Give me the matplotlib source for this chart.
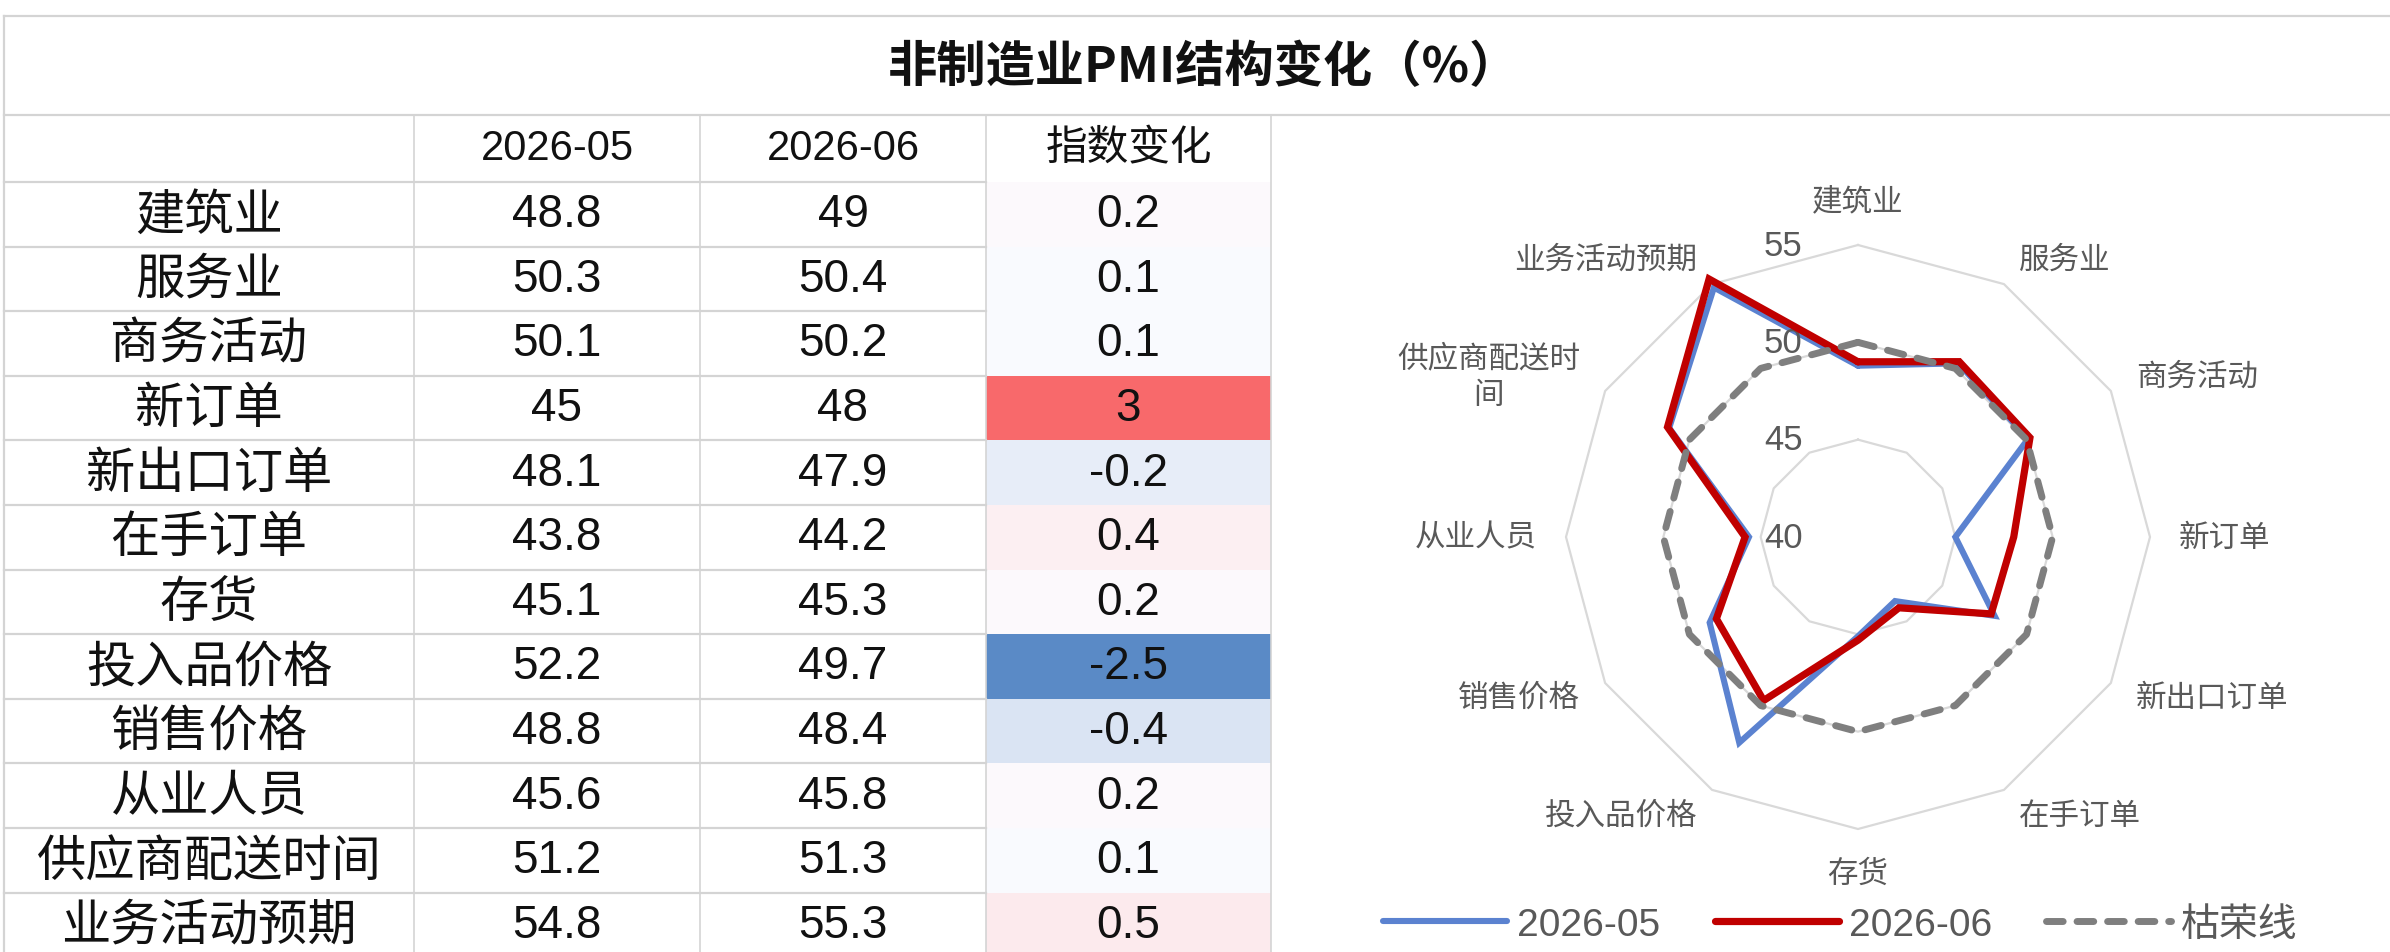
import numpy as np
import matplotlib
matplotlib.use('Agg')
import matplotlib.pyplot as plt
from matplotlib import font_manager as fm
from matplotlib.font_manager import FontProperties
from matplotlib.colors import LinearSegmentedColormap, TwoSlopeNorm
from matplotlib.patches import Rectangle

# ---------------- data ----------------
title = '非制造业PMI结构变化（%）'
col_headers = ['2026-05', '2026-06', '指数变化']
categories = ['建筑业', '服务业', '商务活动', '新订单', '新出口订单', '在手订单',
              '存货', '投入品价格', '销售价格', '从业人员', '供应商配送时间', '业务活动预期']
radar_labels = ['建筑业', '服务业', '商务活动', '新订单', '新出口订单', '在手订单',
                '存货', '投入品价格', '销售价格', '从业人员', '供应商配送时\n间', '业务活动预期']
may_values = [48.8, 50.3, 50.1, 45, 48.1, 43.8, 45.1, 52.2, 48.8, 45.6, 51.2, 54.8]
jun_values = [49, 50.4, 50.2, 48, 47.9, 44.2, 45.3, 49.7, 48.4, 45.8, 51.3, 55.3]
change_values = [0.2, 0.1, 0.1, 3, -0.2, 0.4, 0.2, -2.5, -0.4, 0.2, 0.1, 0.5]
kurong_values = [50] * 12
series_names = ['2026-05', '2026-06', '枯荣线']
r_ticks = [55, 50, 45, 40]
r_grid = [45, 50, 55]

# ---------------- fonts ----------------
avail = {f.name for f in fm.fontManager.ttflist}
NARROW = 'Liberation Sans Narrow' if 'Liberation Sans Narrow' in avail else 'Liberation Sans'
CJK = 'Noto Sans CJK SC'
plt.rcParams['font.family'] = [CJK, 'DejaVu Sans']

W, H = 2390, 953
fig = plt.figure(figsize=(W / 100, H / 100), dpi=100)
fig.patch.set_facecolor('white')

bg = fig.add_axes([0, 0, 1, 1])
bg.set_xlim(0, W)
bg.set_ylim(H, 0)
bg.axis('off')

# ---------------- table ----------------
grid_c = '#d4d4d4'
x_edges = [4, 414, 700, 986, 1271]
top, title_bottom, header_bottom, row_h = 17, 116, 183, 64.6
x_centers = [(x_edges[i] + x_edges[i + 1]) / 2 for i in range(4)]

# title
bg.text(1203, 68, title, ha='center', va='center', fontsize=35.5, fontweight='bold',
        family=[CJK, 'DejaVu Sans'], color='#111111')

# border lines
bg.plot([x_edges[0], W], [top, top], color=grid_c, lw=1.6, zorder=4)
bg.plot([x_edges[0], W], [title_bottom, title_bottom], color=grid_c, lw=1.6, zorder=4)
bg.plot([x_edges[0], x_edges[0]], [top, H], color=grid_c, lw=1.6, zorder=4)
for x in x_edges[1:]:
    bg.plot([x, x], [title_bottom, H], color=grid_c, lw=1.2, zorder=4)
bg.plot([x_edges[0], x_edges[3]], [header_bottom, header_bottom], color=grid_c, lw=1.6, zorder=4)
for k in range(1, len(categories) + 1):
    y = header_bottom + k * row_h
    bg.plot([x_edges[0], x_edges[3]], [y, y], color=grid_c, lw=1.6, zorder=4)

# headers
header_y = (title_bottom + header_bottom) / 2
for j, h in enumerate(col_headers):
    bg.text(x_centers[j + 1], header_y, h, ha='center', va='center', fontsize=30,
            family=[NARROW, CJK], color='#111111')

# colour scale for change column (Excel red-white-blue, 50th percentile midpoint)
cmap = LinearSegmentedColormap.from_list('rwb', ['#5A8AC6', '#FCFCFF', '#F8696B'])
norm = TwoSlopeNorm(vmin=min(change_values), vcenter=float(np.median(change_values)),
                    vmax=max(change_values))

def fmt(v):
    return f'{v:g}'

for i, cat in enumerate(categories):
    y0 = header_bottom + i * row_h
    yc = y0 + row_h / 2
    bg.add_patch(Rectangle((x_edges[3], y0), x_edges[4] - x_edges[3], row_h + 2,
                           facecolor=cmap(norm(change_values[i])), edgecolor='none', zorder=2))
    bg.text(x_centers[0], yc, cat, ha='center', va='center', fontsize=35.5,
            family=[CJK], color='#111111', zorder=5)
    bg.text(x_centers[1], yc, fmt(may_values[i]), ha='center', va='center', fontsize=33,
            family=[NARROW, CJK], color='#111111', zorder=5)
    bg.text(x_centers[2], yc, fmt(jun_values[i]), ha='center', va='center', fontsize=33,
            family=[NARROW, CJK], color='#111111', zorder=5)
    bg.text(x_centers[3], yc, fmt(change_values[i]), ha='center', va='center', fontsize=33,
            family=[NARROW, CJK], color='#111111', zorder=5)

# ---------------- radar ----------------
cx, cy, rad = 1858, 538, 292
ax = fig.add_axes([(cx - rad) / W, (H - cy - rad) / H, 2 * rad / W, 2 * rad / H],
                  projection='polar')
ax.set_theta_zero_location('N')
ax.set_theta_direction(-1)
ax.set_ylim(40, 55)
ax.axis('off')

n = len(categories)
theta = np.arange(n) * 2 * np.pi / n
theta_c = np.append(theta, theta[0])

def close(v):
    return np.append(np.asarray(v, dtype=float), v[0])

for r in r_grid:
    ax.plot(theta_c, [r] * (n + 1), color='#d9d9d9', lw=1.6, zorder=1, clip_on=False)

blue, red, gray = '#5B82D0', '#C00000', '#7F7F7F'
l_may, = ax.plot(theta_c, close(may_values), color=blue, lw=4.4, zorder=3, clip_on=False,
                 solid_joinstyle='miter', solid_capstyle='round')
l_jun, = ax.plot(theta_c, close(jun_values), color=red, lw=5.2, zorder=4, clip_on=False,
                 solid_joinstyle='miter', solid_capstyle='round')
l_kr, = ax.plot(theta_c, close(kurong_values), color=gray, lw=5.0, zorder=5, clip_on=False,
                dashes=(2.4, 2.0), dash_capstyle='round')

for i, lab in enumerate(radar_labels):
    s, c = np.sin(theta[i]), np.cos(theta[i])
    ha = 'center' if abs(s) < 0.1 else ('left' if s > 0 else 'right')
    va = 'bottom' if c > 0.9 else ('top' if c < -0.9 else 'center')
    ax.text(theta[i], 56.5, lab, ha=ha, va=va, fontsize=22, color='#595959',
            family=[CJK], multialignment='center', clip_on=False, linespacing=1.25)

for v in r_ticks:
    ax.annotate(f'{v}', xy=(0, v), xytext=(-40, 0), textcoords='offset points',
                ha='right', va='center', fontsize=25, color='#595959',
                family=['Liberation Sans'], annotation_clip=False)

fig.legend(handles=[l_may, l_jun, l_kr], labels=series_names, loc='center',
           bbox_to_anchor=(1840 / W, 1 - 926 / H), ncol=3, frameon=False,
           prop=FontProperties(family=[NARROW, CJK], size=28),
           handlelength=3.2, handletextpad=0.25, columnspacing=1.4,
           labelcolor='#595959')

fig.savefig('out.png', dpi=100, facecolor='white')
